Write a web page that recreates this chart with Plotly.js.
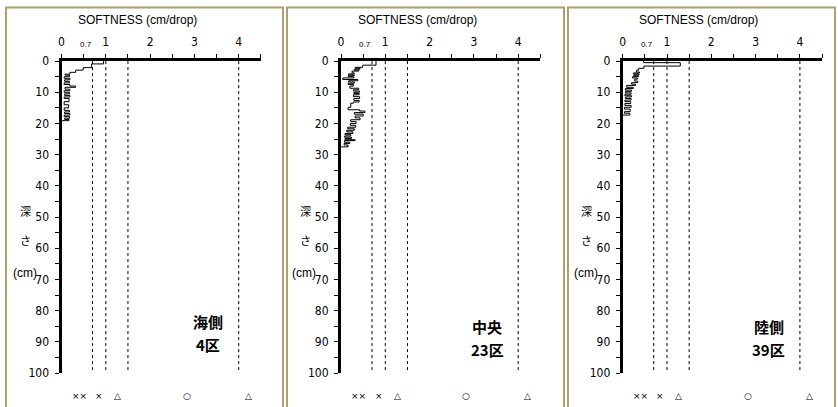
<!DOCTYPE html>
<html>
<head>
<meta charset="utf-8">
<script src="https://cdn.plot.ly/plotly-3.0.1.min.js"></script>
<style>
  html, body { margin: 0; padding: 0; background: #ffffff; }
  #chart { width: 838px; height: 407px; }
</style>
</head>
<body>
<div id="chart"></div>
<script>
// Cone-penetration softness profiles (cm/drop) against depth (cm), three plots.

// 海側 4区
const depthSea = [0, 0.9, 2.1, 2.9, 3.6, 4.2, 4.5, 5.0, 5.5, 6.0, 6.5, 7.0, 7.5, 8.0, 8.4,
  9.0, 9.5, 10.0, 10.5, 11.0, 11.5, 12.0, 13.0, 14.0, 15.0, 15.8, 16.3, 16.8, 17.3, 17.8,
  18.3, 18.7, 19.1];
const softSea = [0.95, 0.68, 0.49, 0.32, 0.19, 0.08, 0.18, 0.06, 0.19, 0.07, 0.18, 0.06, 0.19, 0.32, 0.08,
  0.19, 0.06, 0.18, 0.07, 0.19, 0.06, 0.17, 0.06, 0.16, 0.06, 0.18, 0.07, 0.19, 0.06, 0.18,
  0.07, 0.17, 0];

// 中央 23区
const depthMid = [0, 1.3, 2.0, 2.3, 2.6, 2.9, 3.2, 3.8, 4.1, 4.4, 4.7, 5.0, 5.4, 5.9, 6.3,
  6.7, 7.1, 7.5, 8.0, 8.7, 9.2, 9.6, 10.0, 10.4, 10.8, 11.4, 12.0, 12.6, 13.1, 13.5,
  14.8, 15.6, 16.0, 16.5, 17.0, 17.6, 18.2, 18.8, 19.4, 20.0, 20.6, 21.2, 21.7, 22.2, 22.7,
  23.2, 23.6, 24.0, 24.4, 24.8, 25.2, 25.5, 26.0, 26.4, 26.9, 27.5];
const softMid = [0.79, 0.49, 0.32, 0.43, 0.30, 0.40, 0.25, 0.30, 0.17, 0.30, 0.16, 0.29, 0.04, 0.38, 0.17,
  0.30, 0.16, 0.28, 0.20, 0.40, 0.28, 0.42, 0.29, 0.41, 0.28, 0.42, 0.29, 0.41, 0.28, 0.22,
  0.16, 0.42, 0.54, 0.30, 0.50, 0.32, 0.43, 0.22, 0.34, 0.21, 0.33, 0.15, 0.30, 0.13, 0.27,
  0.09, 0.22, 0.08, 0.24, 0.09, 0.32, 0.08, 0.20, 0.07, 0.16, 0];

// 陸側 39区
const depthLand = [0, 0.5, 1.6, 2.3, 2.9, 3.5, 3.8, 4.1, 4.4, 4.7, 5.0, 5.4, 5.8, 6.4, 6.9,
  7.4, 7.8, 8.4, 8.8, 9.3, 9.7, 10.2, 10.6, 11.1, 11.5, 12.0, 12.5, 13.0, 13.6, 14.2,
  14.8, 15.4, 16.2, 16.7, 17.3];
const softLand = [0.47, 1.30, 0.48, 0.36, 0.31, 0.38, 0.24, 0.37, 0.25, 0.36, 0.22, 0.33, 0.27, 0.34, 0.20,
  0.29, 0.09, 0.24, 0.06, 0.20, 0.06, 0.19, 0.05, 0.20, 0.06, 0.19, 0.05, 0.18, 0.05, 0.19,
  0.04, 0.17, 0.04, 0.16, 0];

const sites = ['海側', '中央', '陸側'];
const plots = ['4区', '23区', '39区'];

// criteria lines and the grade symbols shown under each band
const criteria = [0.7, 1, 1.5, 4];
const gradeSymbols = ['××', '×', '△', '○', '△'];
const gradeAt = [0.40, 0.85, 1.27, 2.83, 4.22];

const xTickVals = [0, 1, 2, 3, 4];
const yTickVals = [0, 10, 20, 30, 40, 50, 60, 70, 80, 90, 100];
const titleText = 'SOFTNESS (cm/drop)';

// ---- layout helpers (pixel -> paper) ----
const W = 838, H = 407;
const px = v => v / W;
const py = v => 1 - v / H;

const profiles = [
  { depth: depthSea, soft: softSea },
  { depth: depthMid, soft: softMid },
  { depth: depthLand, soft: softLand }
];

const origins = [61.5, 341, 622.7];   // left edge of each plot area
const unit = 44.3;                    // px per cm/drop
const xMax = 4.5;
const plotTop = 61.1, plotBottom = 373;
const frames = [[6, 283], [287, 564], [568, 835]];

const numFont = { family: 'Liberation Sans Narrow, DejaVu Sans Condensed, Arial Narrow, sans-serif', size: 12, color: '#000' };
const cjk = 'Noto Sans CJK JP, sans-serif';

const traces = [];
const layout = {
  width: W, height: H,
  margin: { l: 0, r: 0, t: 0, b: 0 },
  paper_bgcolor: '#ffffff',
  plot_bgcolor: 'rgba(0,0,0,0)',
  showlegend: false,
  shapes: [],
  annotations: []
};

profiles.forEach((p, i) => {
  const n = i === 0 ? '' : String(i + 1);
  const xa = 'x' + n, ya = 'y' + n;
  const x0 = origins[i];
  const x1 = x0 + unit * xMax;

  traces.push({
    type: 'scatter', mode: 'lines',
    x: p.soft, y: p.depth,
    xaxis: xa, yaxis: ya,
    line: { color: '#000', width: 1, shape: 'vh' },
    hoverinfo: 'skip'
  });

  layout['xaxis' + n] = {
    domain: [px(x0), px(x1)],
    range: [0, xMax],
    side: 'top',
    anchor: ya,
    showline: true, linewidth: 3, linecolor: '#000',
    showgrid: false, zeroline: false,
    ticks: 'outside', ticklen: 4, tickwidth: 1, tickcolor: '#000',
    tickvals: xTickVals,
    ticktext: xTickVals.map(String),
    ticklabelstandoff: 3,
    minor: { dtick: 0.5, tick0: 0, ticks: 'outside', ticklen: 4, tickwidth: 1, tickcolor: '#000' },
    tickfont: numFont,
    fixedrange: true
  };
  layout['yaxis' + n] = {
    domain: [py(plotBottom), py(plotTop)],
    range: [100, 0],
    anchor: xa,
    showline: true, linewidth: 3, linecolor: '#000',
    showgrid: false, zeroline: false,
    ticks: 'outside', ticklen: 4, tickwidth: 1, tickcolor: '#000',
    tickvals: yTickVals,
    ticktext: yTickVals.map(String),
    ticklabelstandoff: 3,
    minor: { dtick: 5, tick0: 0, ticks: 'outside', ticklen: 4, tickwidth: 1, tickcolor: '#000' },
    tickfont: numFont,
    fixedrange: true
  };

  // panel frame
  layout.shapes.push({
    type: 'rect', xref: 'paper', yref: 'paper',
    x0: px(frames[i][0]), x1: px(frames[i][1]),
    y0: py(412), y1: py(7.5),
    line: { color: '#ad9f6e', width: 2 },
    fillcolor: 'rgba(0,0,0,0)', layer: 'below'
  });

  // dashed criteria lines
  criteria.forEach(c => {
    layout.shapes.push({
      type: 'line', xref: xa, yref: ya,
      x0: c, x1: c, y0: 0, y1: 100,
      line: { color: '#000', width: 1, dash: '3px,3px' },
      layer: 'below'
    });
  });

  // axis title
  layout.annotations.push({
    xref: 'paper', yref: 'paper',
    x: px(x0 + 76), y: py(20),
    text: titleText, showarrow: false,
    xanchor: 'center', yanchor: 'middle',
    font: { family: 'Liberation Sans, Arial, sans-serif', size: 12, color: '#000' }
  });

  // small 0.7 label
  layout.annotations.push({
    xref: 'paper', yref: 'paper',
    x: px(x0 + 24), y: py(44),
    text: '0.7', showarrow: false,
    xanchor: 'center', yanchor: 'middle',
    font: { family: 'Liberation Sans, Arial, sans-serif', size: 8, color: '#000' }
  });

  // depth label
  [['深', 211], ['さ', 240]].forEach(([t, yy]) => {
    layout.annotations.push({
      xref: 'paper', yref: 'paper',
      x: px(x0 - 36), y: py(yy),
      text: t, showarrow: false,
      xanchor: 'center', yanchor: 'middle',
      font: { family: cjk, size: 11, color: '#000' }
    });
  });
  layout.annotations.push({
    xref: 'paper', yref: 'paper',
    x: px(x0 - 37), y: py(273),
    text: '(cm)', showarrow: false,
    xanchor: 'center', yanchor: 'middle',
    font: { family: 'Liberation Sans, Arial, sans-serif', size: 12, color: '#000' }
  });

  // site / plot label
  const yShift = i === 0 ? -5 : 0;
  layout.annotations.push({
    xref: 'paper', yref: 'paper',
    x: px(x0 + 146), y: py(326 + yShift),
    text: sites[i], showarrow: false,
    xanchor: 'center', yanchor: 'middle',
    font: { family: cjk, size: 15, color: '#000', weight: 'bold' }
  });
  layout.annotations.push({
    xref: 'paper', yref: 'paper',
    x: px(x0 + 146), y: py(349 + yShift),
    text: plots[i], showarrow: false,
    xanchor: 'center', yanchor: 'middle',
    font: { family: cjk, size: 15, color: '#000', weight: 'bold' }
  });

  // grade symbols under the bands
  gradeSymbols.forEach((s, k) => {
    layout.annotations.push({
      xref: xa, yref: 'paper',
      x: gradeAt[k], y: py(396),
      text: s, showarrow: false,
      xanchor: 'center', yanchor: 'middle',
      font: { family: 'DejaVu Sans, sans-serif', size: 9, color: '#000' }
    });
  });
});

Plotly.newPlot('chart', traces, layout, { staticPlot: true, displayModeBar: false });
</script>
</body>
</html>
